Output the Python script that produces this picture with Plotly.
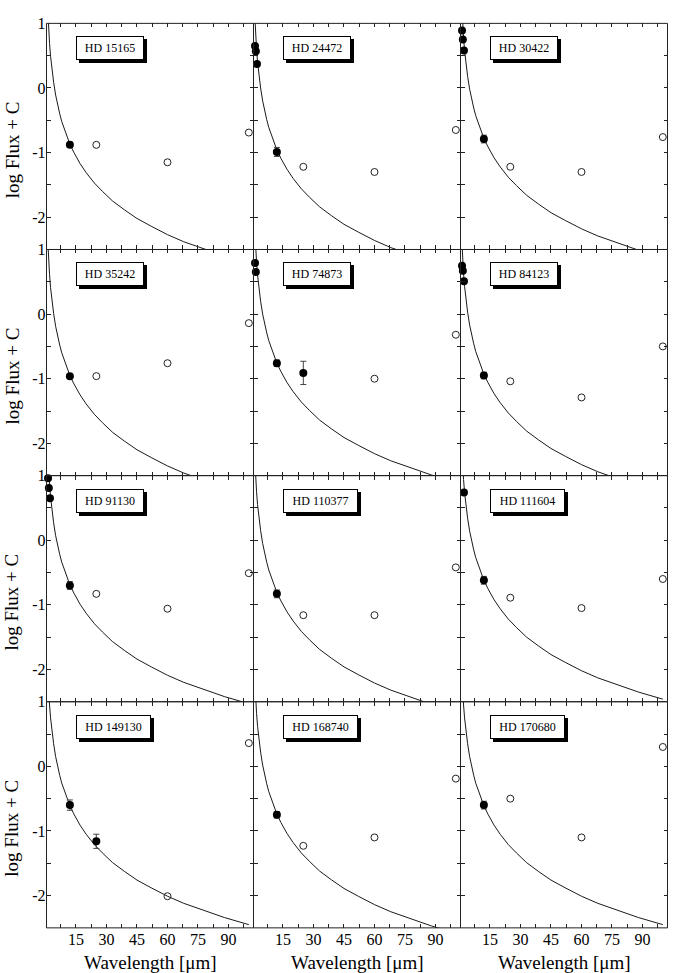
import plotly.graph_objects as go

# ---------------- data ----------------
stars = ["HD 15165", "HD 24472", "HD 30422",
         "HD 35242", "HD 74873", "HD 84123",
         "HD 91130", "HD 110377", "HD 111604",
         "HD 149130", "HD 168740", "HD 170680"]

# model curve sampled at these wavelengths (micron)
curve_lambda = [1, 1.25, 1.5, 1.75, 2, 2.5, 3, 3.5, 4, 5, 6, 7, 8, 10, 12, 14, 17, 20,
                24, 28, 33, 39, 45, 52, 60, 68, 77, 88, 100]
curve_y = [
    [1.29, 1.10, 0.94, 0.80, 0.69, 0.49, 0.34, 0.20, 0.09, -0.11, -0.27, -0.40, -0.52, -0.71, -0.87, -1.00, -1.17, -1.31, -1.47, -1.60, -1.75, -1.89, -2.02, -2.14, -2.27, -2.38, -2.48, -2.60, -2.71],
    [1.20, 1.01, 0.85, 0.71, 0.60, 0.40, 0.25, 0.11, 0.00, -0.20, -0.36, -0.49, -0.61, -0.80, -0.96, -1.09, -1.26, -1.40, -1.56, -1.69, -1.84, -1.98, -2.11, -2.23, -2.36, -2.47, -2.57, -2.69, -2.80],
    [1.38, 1.19, 1.03, 0.89, 0.78, 0.58, 0.43, 0.29, 0.18, -0.02, -0.18, -0.31, -0.43, -0.62, -0.78, -0.91, -1.08, -1.22, -1.38, -1.51, -1.66, -1.80, -1.93, -2.05, -2.18, -2.29, -2.39, -2.51, -2.62],
    [1.21, 1.02, 0.86, 0.72, 0.61, 0.41, 0.26, 0.12, 0.01, -0.19, -0.35, -0.48, -0.60, -0.79, -0.95, -1.08, -1.25, -1.39, -1.55, -1.68, -1.83, -1.97, -2.10, -2.22, -2.35, -2.46, -2.56, -2.68, -2.79],
    [1.40, 1.21, 1.05, 0.91, 0.80, 0.60, 0.45, 0.31, 0.20, 0.00, -0.16, -0.29, -0.41, -0.60, -0.76, -0.89, -1.06, -1.20, -1.36, -1.49, -1.64, -1.78, -1.91, -2.03, -2.16, -2.27, -2.37, -2.49, -2.60],
    [1.23, 1.04, 0.88, 0.74, 0.63, 0.43, 0.28, 0.14, 0.03, -0.17, -0.33, -0.46, -0.58, -0.77, -0.93, -1.06, -1.23, -1.37, -1.53, -1.66, -1.81, -1.95, -2.08, -2.20, -2.33, -2.44, -2.54, -2.66, -2.77],
    [1.47, 1.28, 1.12, 0.98, 0.87, 0.67, 0.52, 0.38, 0.27, 0.07, -0.09, -0.22, -0.34, -0.53, -0.69, -0.82, -0.99, -1.13, -1.29, -1.42, -1.57, -1.71, -1.84, -1.96, -2.09, -2.20, -2.30, -2.42, -2.53],
    [1.35, 1.16, 1.00, 0.86, 0.75, 0.55, 0.40, 0.26, 0.15, -0.05, -0.21, -0.34, -0.46, -0.65, -0.81, -0.94, -1.11, -1.25, -1.41, -1.54, -1.69, -1.83, -1.96, -2.08, -2.21, -2.32, -2.42, -2.54, -2.65],
    [1.54, 1.35, 1.19, 1.05, 0.94, 0.74, 0.59, 0.45, 0.34, 0.14, -0.02, -0.15, -0.27, -0.46, -0.62, -0.75, -0.92, -1.06, -1.22, -1.35, -1.50, -1.64, -1.77, -1.89, -2.02, -2.13, -2.23, -2.35, -2.46],
    [1.55, 1.36, 1.20, 1.06, 0.95, 0.75, 0.60, 0.46, 0.35, 0.15, -0.01, -0.14, -0.26, -0.45, -0.61, -0.74, -0.91, -1.05, -1.21, -1.34, -1.49, -1.63, -1.76, -1.88, -2.01, -2.12, -2.22, -2.34, -2.45],
    [1.42, 1.23, 1.07, 0.93, 0.82, 0.62, 0.47, 0.33, 0.22, 0.02, -0.14, -0.27, -0.39, -0.58, -0.74, -0.87, -1.04, -1.18, -1.34, -1.47, -1.62, -1.76, -1.89, -2.01, -2.14, -2.25, -2.35, -2.47, -2.58],
    [1.55, 1.36, 1.20, 1.06, 0.95, 0.75, 0.60, 0.46, 0.35, 0.15, -0.01, -0.14, -0.26, -0.45, -0.61, -0.74, -0.91, -1.05, -1.21, -1.34, -1.49, -1.63, -1.76, -1.88, -2.01, -2.12, -2.22, -2.34, -2.45],
]

# filled (detections) with error bars
filled_x = [
    [12], [1.25, 1.65, 2.2, 12], [1.25, 1.65, 2.2, 12],
    [12], [1.25, 1.65, 12, 25], [1.25, 1.65, 2.2, 12],
    [1.25, 1.65, 2.2, 12], [12], [2.2, 12],
    [12, 25], [12], [12],
]
filled_y = [
    [-0.88], [0.65, 0.57, 0.37, -0.99], [0.89, 0.75, 0.58, -0.79],
    [-0.96], [0.79, 0.65, -0.76, -0.91], [0.75, 0.67, 0.51, -0.95],
    [0.96, 0.81, 0.65, -0.70], [-0.83], [0.74, -0.62],
    [-0.60, -1.16], [-0.75], [-0.60],
]
filled_err = [
    [0.04], [0, 0, 0, 0.07], [0, 0, 0, 0.06],
    [0.03], [0, 0, 0.05, 0.18], [0, 0, 0, 0.05],
    [0, 0, 0, 0.06], [0.06], [0, 0.06],
    [0.08, 0.11], [0.05], [0.06],
]

# open circles
open_x = [
    [25, 60, 100], [25, 60, 100], [25, 60, 100],
    [25, 60, 100], [60, 100], [25, 60, 100],
    [25, 60, 100], [25, 60, 100], [25, 60, 100],
    [60, 100], [25, 60, 100], [25, 60, 100],
]
open_y = [
    [-0.88, -1.15, -0.69], [-1.22, -1.30, -0.65], [-1.22, -1.30, -0.76],
    [-0.96, -0.76, -0.14], [-1.00, -0.32], [-1.04, -1.29, -0.50],
    [-0.83, -1.06, -0.51], [-1.16, -1.16, -0.42], [-0.89, -1.05, -0.60],
    [-2.01, 0.36], [-1.23, -1.10, -0.19], [-0.50, -1.10, 0.30],
]

x_tick_vals = [15, 30, 45, 60, 75, 90]
y_tick_vals = [-2, -1, 0, 1]
y_tick_text = ["-2", "-1", "0", "1"]
x_title = "Wavelength [μm]"
y_title = "log Flux + C"

# ---------------- layout geometry ----------------
W, H = 673, 973
col_left = [46.5, 253.5, 460.5]
col_w = 207.0
row_top = [15.5, 243.5, 471.5, 699.5]
row_h = 228.0
FONT = "Liberation Serif, Times New Roman, serif"
AX = "#222"

fig = go.Figure()
layout = {}
annotations = []
shapes = []

for i in range(12):
    r, c = divmod(i, 3)
    suf = "" if i == 0 else str(i + 1)
    xa, ya = "x" + suf, "y" + suf

    fig.add_trace(go.Scatter(
        x=curve_lambda, y=curve_y[i], mode="lines",
        line=dict(color="#1a1a1a", width=1),
        xaxis=xa, yaxis=ya, hoverinfo="skip", showlegend=False))
    fig.add_trace(go.Scatter(
        x=open_x[i], y=open_y[i], mode="markers",
        marker=dict(symbol="circle-open", size=7, color="#222", line=dict(width=1)),
        xaxis=xa, yaxis=ya, showlegend=False, cliponaxis=False))
    fig.add_trace(go.Scatter(
        x=filled_x[i], y=filled_y[i], mode="markers",
        marker=dict(symbol="circle", size=8, color="#000"),
        error_y=dict(type="data", array=filled_err[i], visible=True,
                     color="#444", thickness=1, width=3),
        xaxis=xa, yaxis=ya, showlegend=False, cliponaxis=False))

    x0 = col_left[c] / W
    x1 = (col_left[c] + col_w) / W
    y1 = 1 - row_top[r] / H
    y0 = 1 - (row_top[r] + row_h) / H

    layout["xaxis" + suf] = dict(
        domain=[x0, x1], anchor=ya, range=[0.5, 102.3],
        tickmode="array", tickvals=x_tick_vals,
        showticklabels=(r == 3),
        ticks="inside", ticklen=4, tickwidth=1, tickcolor=AX,
        minor=dict(tickmode="linear", tick0=0, dtick=7.5, ticks="inside",
                   ticklen=4, tickwidth=1, tickcolor=AX),
        showline=False, mirror="ticks",
        showgrid=False, zeroline=False,
        tickfont=dict(family=FONT, size=16, color="#000"))
    layout["yaxis" + suf] = dict(
        domain=[y0, y1], anchor=xa, range=[-2.5, 1],
        tickmode="array", tickvals=y_tick_vals, ticktext=y_tick_text,
        showticklabels=(c == 0),
        ticks="inside", ticklen=4, tickwidth=1, tickcolor=AX,
        minor=dict(tickmode="linear", tick0=0, dtick=0.5, ticks="inside",
                   ticklen=4, tickwidth=1, tickcolor=AX),
        showline=False, mirror="ticks",
        showgrid=False, zeroline=False,
        tickfont=dict(family=FONT, size=16, color="#000"))

    # panel frame
    shapes.append(dict(type="rect", xref="paper", yref="paper",
                       x0=x0, x1=x1, y0=y0, y1=y1,
                       line=dict(color=AX, width=1), fillcolor="rgba(0,0,0,0)",
                       layer="above"))

    # label box with drop shadow
    bx = (col_left[c] + 29) / W
    by = 1 - (row_top[r] + 13) / H
    box_w = 7 * len(stars[i]) + 2
    annotations.append(dict(
        xref="paper", yref="paper", x=bx, y=by,
        xanchor="left", yanchor="top", showarrow=False,
        text="&nbsp;", width=box_w, height=14,
        font=dict(family=FONT, size=12, color="#000"),
        bgcolor="#000", bordercolor="#000", borderwidth=1, borderpad=4,
        xshift=3, yshift=-3))
    annotations.append(dict(
        xref="paper", yref="paper", x=bx, y=by,
        xanchor="left", yanchor="top", showarrow=False,
        text=stars[i], width=box_w, height=14, align="center",
        font=dict(family=FONT, size=12, color="#000"),
        bgcolor="#fff", bordercolor="#000", borderwidth=1, borderpad=4))

# axis titles
for r in range(4):
    annotations.append(dict(
        xref="paper", yref="paper", x=12 / W,
        y=1 - (row_top[r] + row_h / 2 + 14) / H,
        xanchor="center", yanchor="middle", showarrow=False,
        text=y_title, textangle=-90,
        font=dict(family=FONT, size=19, color="#000")))
for c in range(3):
    annotations.append(dict(
        xref="paper", yref="paper", x=(col_left[c] + col_w / 2) / W,
        y=1 - 962 / H, xanchor="center", yanchor="middle", showarrow=False,
        text=x_title, font=dict(family=FONT, size=19, color="#000")))

fig.update_layout(
    width=W, height=H, margin=dict(l=0, r=0, t=0, b=0),
    paper_bgcolor="#fff", plot_bgcolor="#fff",
    annotations=annotations, shapes=shapes, **layout)

fig.write_html("out.html")
